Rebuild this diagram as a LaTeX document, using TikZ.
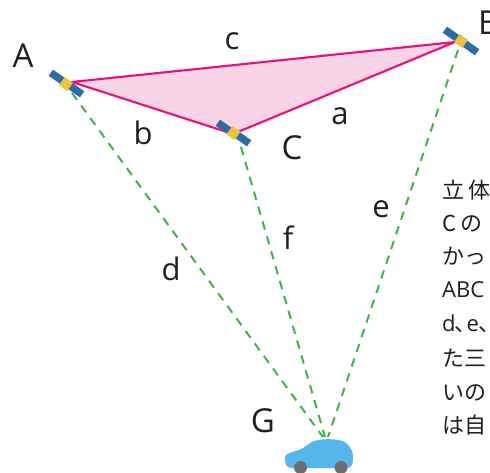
\documentclass[tikz,border=0pt]{standalone}
\usepackage{fontspec}
\setmainfont{Open Sans}
\newfontfamily\cjk{Noto Sans CJK JP}[Scale=1]
\definecolor{pinkline}{HTML}{EC0F7B}
\definecolor{pinkfill}{HTML}{F9D3E6}
\definecolor{greenline}{HTML}{3DB54A}
\definecolor{panelblue}{HTML}{2F6CA3}
\definecolor{satyellow}{HTML}{EBC33C}
\definecolor{carblue}{HTML}{56B5EA}
\definecolor{wheelgrey}{HTML}{6D6E71}
\definecolor{inkc}{HTML}{231F20}
\tikzset{
  sidelab/.style={font=\fontsize{33}{36}\selectfont, text=inkc, inner sep=0pt},
  edgelab/.style={font=\fontsize{31}{34}\selectfont, text=inkc, inner sep=0pt},
  bodytext/.style={font=\cjk\fontsize{22}{24}\selectfont, text=inkc, inner sep=0pt, anchor=base west},
  latintext/.style={font=\fontsize{22}{24}\selectfont, text=inkc, inner sep=0pt, anchor=base west},
  sideline/.style={draw=pinkline, line width=2.1pt},
  sight/.style={draw=greenline, line width=2pt, dash pattern=on 8.5pt off 7pt},
  panel/.style={fill=panelblue, draw=none, minimum width=15pt, minimum height=7.5pt, inner sep=0pt, rotate=-35},
  core/.style={fill=satyellow, draw=none, minimum size=10pt, inner sep=0pt, rotate=-35},
}
\begin{document}
\begin{tikzpicture}[x=1pt,y=-1pt]
\useasboundingbox (0,0) rectangle (490,472);
\clip (0,0) rectangle (490,472);
\coordinate (pA) at (72,82);
\coordinate (pB) at (455,42);
\coordinate (pC) at (233,134);
\coordinate (gA) at (72,93);
\coordinate (gB) at (458,50);
\coordinate (gC) at (241,147);
\coordinate (gG1) at (323,437);
\coordinate (gG2) at (325,437);
\coordinate (gG3) at (328,437);
% triangle
\fill[pinkfill] (pA) -- (pB) -- (pC) -- cycle;
\draw[sideline, line join=round] (pA) -- (pB) -- (pC) -- cycle;
% sight lines
\draw[sight] (gA) -- (gG1);
\draw[sight] (gC) -- (gG2);
\draw[sight] (gB) -- (gG3);
% satellites
\node[panel] (a1) at (57,77) {};
\node[panel] (a2) at (76,90) {};
\node[core] (a0) at (66,84) {};
\node[panel] (c1) at (224,127) {};
\node[panel] (c2) at (243,139) {};
\node[core] (c0) at (233.5,133) {};
\node[panel] (b1) at (451,34) {};
\node[panel] (b2) at (471,48) {};
\node[core] (b0) at (461,41) {};
% car
\fill[carblue] (285,458) .. controls (285,454) and (289,453) .. (296,451)
  .. controls (304,449) and (306,445) .. (312,442)
  .. controls (318,439) and (330,438.5) .. (338,440)
  .. controls (347,441) and (353,448) .. (353,458)
  .. controls (353,465) and (351,468) .. (347,468)
  -- (292,468) .. controls (287,468) and (285,465) .. (285,458) -- cycle;
\fill[wheelgrey] (300.5,467.5) circle (6.5pt);
\fill[wheelgrey] (341,467.5) circle (6.5pt);
% labels
\node[sidelab] (lA) at (23,56) {A};
\node[sidelab, anchor=west] (lB) at (478,23) {B};
\node[sidelab] (lC) at (292,148) {C};
\node[sidelab] (lG) at (263,421) {G};
\node[edgelab] (la) at (340,116) {a};
\node[edgelab] (lb) at (143,133) {b};
\node[edgelab] (lc) at (232,41) {c};
\node[edgelab] (ld) at (171,269) {d};
\node[edgelab] (le) at (381,209) {e};
\node[edgelab] (lf) at (288,238) {f};
% body text
\node[bodytext] (t1) at (442,198) {立\hspace{4pt}体};
\node[bodytext] (t2) at (442,231) {C\hspace{4pt}の};
\node[bodytext] (t3) at (442,264) {かっ};
\node[latintext] (t4) at (442,297) {ABC};
\node[latintext] (t5) at (442,331) {d{\cjk\hspace{-1pt}、\hspace{-10pt}}e{\cjk\hspace{-1pt}、}};
\node[bodytext] (t6) at (442,366) {た三};
\node[bodytext] (t7) at (442,400) {いの};
\node[bodytext] (t8) at (442,433) {は自};
\end{tikzpicture}
\end{document}
